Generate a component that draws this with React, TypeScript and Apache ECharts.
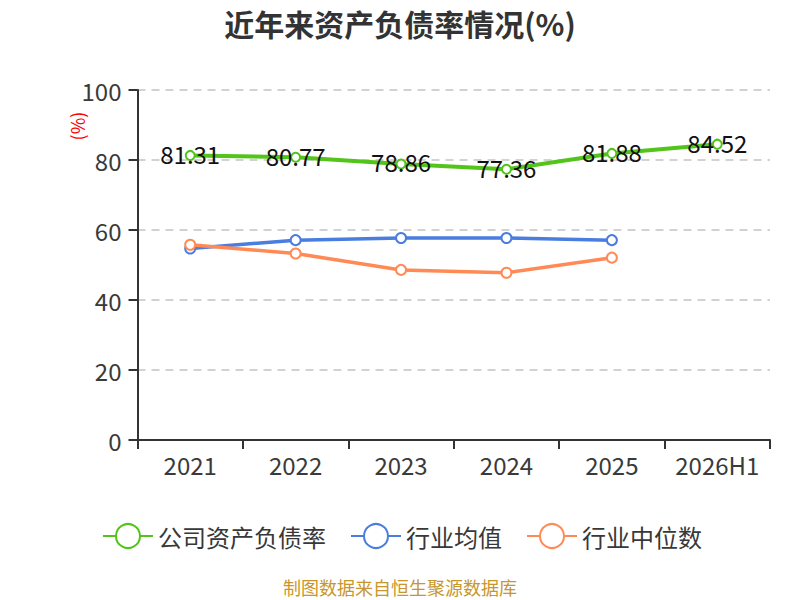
import React, { useEffect, useRef } from "react";
import * as echarts from "echarts";

const categories = ["2021", "2022", "2023", "2024", "2025", "2026H1"];
const companyRatio = [81.31, 80.77, 78.86, 77.36, 81.88, 84.52];
const industryAvg = [54.7, 57.1, 57.7, 57.7, 57.1, null];
const industryMedian = [55.8, 53.3, 48.6, 47.8, 52.1, null];
const seriesNames = ["公司资产负债率", "行业均值", "行业中位数"];
const titleText = "近年来资产负债率情况(%)";
const footerText = "制图数据来自恒生聚源数据库";

const FONT = "'Noto Sans CJK SC', 'Noto Sans', sans-serif";

export default function App() {
  const ref = useRef<HTMLDivElement>(null);
  useEffect(() => {
    if (!ref.current) return;
    const chart = echarts.init(ref.current, null, { renderer: "svg" });
    chart.setOption({
      animation: false,
      textStyle: { fontFamily: FONT },
      title: {
        text: titleText,
        left: "center",
        top: 3,
        textStyle: { fontSize: 30, fontWeight: "bold", color: "#333", fontFamily: FONT },
      },
      grid: { left: 137.5, right: 30, top: 90, bottom: 160 },
      legend: {
        top: 518,
        left: 97,
        itemWidth: 50,
        itemHeight: 30,
        itemGap: 24,
        textStyle: { fontSize: 24, color: "#383838", fontFamily: FONT },
        data: seriesNames,
      },
      xAxis: {
        type: "category",
        data: categories,
        axisLine: { show: true, lineStyle: { color: "#333", width: 2 } },
        axisTick: { show: true, interval: 0, length: 9, lineStyle: { color: "#333", width: 2 } },
        axisLabel: { interval: 0, fontSize: 24, color: "#3a3a3a", margin: 12, fontFamily: FONT },
      },
      yAxis: {
        type: "value",
        min: 0,
        max: 100,
        interval: 20,
        axisLine: { show: true, lineStyle: { color: "#333", width: 2 } },
        axisTick: { show: true, length: 9, lineStyle: { color: "#333", width: 2 } },
        axisLabel: { fontSize: 24, color: "#3a3a3a", margin: 16, fontFamily: FONT },
        splitLine: { lineStyle: { type: [8, 6], color: "#c4c4c4", width: 1.5 } },
      },
      graphic: [
        {
          type: "text",
          x: 77,
          y: 126,
          rotation: Math.PI / 2,
          style: {
            text: "(%)",
            fill: "#ff0000",
            fontSize: 18,
            fontFamily: FONT,
            textAlign: "center",
            textVerticalAlign: "middle",
          },
        },
        {
          type: "text",
          x: 400,
          y: 587,
          style: {
            text: footerText,
            fill: "#c8962d",
            fontSize: 18,
            fontFamily: FONT,
            textAlign: "center",
            textVerticalAlign: "middle",
          },
        },
      ],
      series: [
        {
          name: seriesNames[0],
          type: "line",
          data: companyRatio,
          symbol: "emptyCircle",
          symbolSize: 9,
          color: "#52c41a",
          lineStyle: { width: 4, color: "#52c41a" },
          itemStyle: { color: "#52c41a", borderWidth: 2 },
          label: {
            show: true,
            position: "inside",
            offset: [0, -2],
            fontSize: 24,
            color: "#111",
            fontFamily: FONT,
          },
          z: 3,
        },
        {
          name: seriesNames[1],
          type: "line",
          data: industryAvg,
          symbol: "emptyCircle",
          symbolSize: 10,
          color: "#4a7ddf",
          lineStyle: { width: 3.5, color: "#4a7ddf" },
          itemStyle: { color: "#4a7ddf", borderWidth: 2 },
          z: 2,
        },
        {
          name: seriesNames[2],
          type: "line",
          data: industryMedian,
          symbol: "emptyCircle",
          symbolSize: 10,
          color: "#ff8a55",
          lineStyle: { width: 3.5, color: "#ff8a55" },
          itemStyle: { color: "#ff8a55", borderWidth: 2 },
          z: 2,
        },
      ],
    });
    return () => chart.dispose();
  }, []);
  return (
    <div
      ref={ref}
      style={{ position: "fixed", left: 0, top: 0, width: 800, height: 600, background: "#fff" }}
    />
  );
}
